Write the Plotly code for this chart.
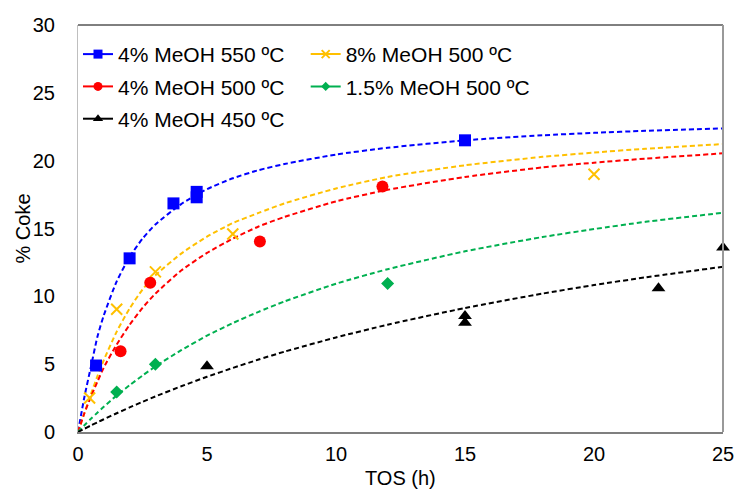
import plotly.graph_objects as go

# Measured points
blue_x = [0.7, 2.0, 3.7, 4.6, 4.6, 15.0]
blue_y = [4.9, 12.8, 16.85, 17.3, 17.7, 21.5]
yellow_x = [0.45, 1.5, 3.0, 6.0, 20.0]
yellow_y = [2.5, 9.05, 11.8, 14.6, 19.0]
red_x = [1.65, 2.8, 7.05, 11.8]
red_y = [5.95, 11.0, 14.05, 18.1]
green_x = [1.5, 3.0, 12.0]
green_y = [2.95, 5.0, 10.95]
black_x = [5.0, 15.0, 15.0, 22.5, 25.0]
black_y = [4.85, 8.55, 8.05, 10.6, 13.6]

# Fitted (dashed) curves
curve_x = [0, 0.25, 0.5, 0.75, 1, 1.5, 2, 2.5, 3, 4, 5, 6, 7, 8, 10, 12, 15, 18, 20, 22, 25]
blue_fit = [0, 2.6, 4.8, 7.0, 8.6, 11.1, 12.9, 14.25, 15.3, 16.8, 17.9, 18.7, 19.3, 19.75, 20.45, 20.95, 21.5, 21.87, 22.05, 22.2, 22.38]
yellow_fit = [0, 1.4, 2.8, 4.1, 5.3, 7.4, 9.1, 10.5, 11.55, 13.15, 14.4, 15.4, 16.15, 16.85, 17.95, 18.8, 19.66, 20.28, 20.6, 20.88, 21.22]
red_fit = [0, 1.4, 2.6, 3.7, 4.75, 6.45, 7.9, 9.15, 10.2, 11.9, 13.2, 14.25, 15.15, 15.85, 17.0, 17.85, 18.8, 19.5, 19.85, 20.15, 20.54]
green_fit = [0, 0.5, 0.97, 1.42, 1.86, 2.69, 3.45, 4.16, 4.83, 6.03, 7.1, 8.03, 8.86, 9.62, 10.93, 12.0, 13.32, 14.37, 14.96, 15.49, 16.16]
black_fit = [0, 0.24, 0.48, 0.71, 0.94, 1.38, 1.81, 2.22, 2.62, 3.37, 4.07, 4.72, 5.34, 5.92, 6.97, 7.91, 9.14, 10.2, 10.83, 11.4, 12.18]

x_ticks = [0, 5, 10, 15, 20, 25]
y_ticks = [0, 5, 10, 15, 20, 25, 30]
x_title = "TOS (h)"
y_title = "% Coke"

series = [
    ("4% MeOH 550 ºC", blue_x, blue_y, blue_fit, "#0000FF", "square", 12, "legend"),
    ("8% MeOH 500 ºC", yellow_x, yellow_y, yellow_fit, "#FFC000", "x-thin", 11, "legend2"),
    ("4% MeOH 500 ºC", red_x, red_y, red_fit, "#FF0000", "circle", 12, "legend"),
    ("1.5% MeOH 500 ºC", green_x, green_y, green_fit, "#00B050", "diamond", 10, "legend2"),
    ("4% MeOH 450 ºC", black_x, black_y, black_fit, "#000000", "triangle-up", 12, "legend"),
]

fig = go.Figure()
for name, xs, ys, fit, color, sym, size, leg in series:
    fig.add_trace(go.Scatter(
        x=curve_x, y=fit, mode="lines", showlegend=False, hoverinfo="skip",
        line=dict(color=color, width=2, dash="5px,3px", shape="spline", smoothing=0.6),
    ))
for name, xs, ys, fit, color, sym, size, leg in series:
    mk = dict(color=color, symbol=sym, size=size)
    if sym == "x-thin":
        mk["line"] = dict(color=color, width=2)
    fig.add_trace(go.Scatter(
        x=xs, y=ys, mode="markers", name=name, legend=leg, legendgroup=name,
        marker=mk, cliponaxis=False, showlegend=False,
    ))
    # legend entry: short solid line with marker
    fig.add_trace(go.Scatter(
        x=[None], y=[None], mode="lines+markers", name=name, legend=leg, legendgroup=name,
        marker=dict(mk, size=size - 3), line=dict(color=color, width=2),
    ))

fig.update_layout(
    width=737, height=493,
    margin=dict(l=78, r=14, t=25, b=61),
    paper_bgcolor="white", plot_bgcolor="white",
    font=dict(family="Liberation Sans, Arial, sans-serif", size=20, color="#000000"),
    legend=dict(x=0.0, y=0.978, xanchor="left", yanchor="top", bgcolor="rgba(0,0,0,0)",
                font=dict(size=21), tracegroupgap=2, itemwidth=30),
    legend2=dict(x=0.353, y=0.978, xanchor="left", yanchor="top", bgcolor="rgba(0,0,0,0)",
                 font=dict(size=21), tracegroupgap=2, itemwidth=30),
    xaxis=dict(range=[0, 25], tickvals=x_ticks, ticks="", showgrid=False, zeroline=False,
               showline=True, linecolor="#7f7f7f", linewidth=1.5, automargin=False,
               ticklabelstandoff=3, tickfont=dict(size=20)),
    yaxis=dict(range=[0, 30], tickvals=y_ticks, ticks="", showgrid=False, zeroline=False,
               showline=True, linecolor="#bfbfbf", linewidth=1, automargin=False,
               ticklabelstandoff=18, tickfont=dict(size=20)),
    annotations=[
        dict(text=x_title, xref="paper", yref="paper", x=0.5, y=0, xanchor="center",
             yanchor="middle", yshift=-46, showarrow=False, font=dict(size=20)),
        dict(text=y_title, xref="paper", yref="paper", x=0, y=0.5, xanchor="center",
             yanchor="middle", xshift=-56, textangle=-90, showarrow=False, font=dict(size=20)),
    ],
    shapes=[
        dict(type="line", xref="x domain", yref="y domain", x0=0, x1=1, y0=1, y1=1,
             line=dict(color="#000000", width=1)),
        dict(type="line", xref="x domain", yref="y domain", x0=1, x1=1, y0=0, y1=1,
             line=dict(color="#999999", width=2)),
    ],
)

fig.write_html("out.html")
